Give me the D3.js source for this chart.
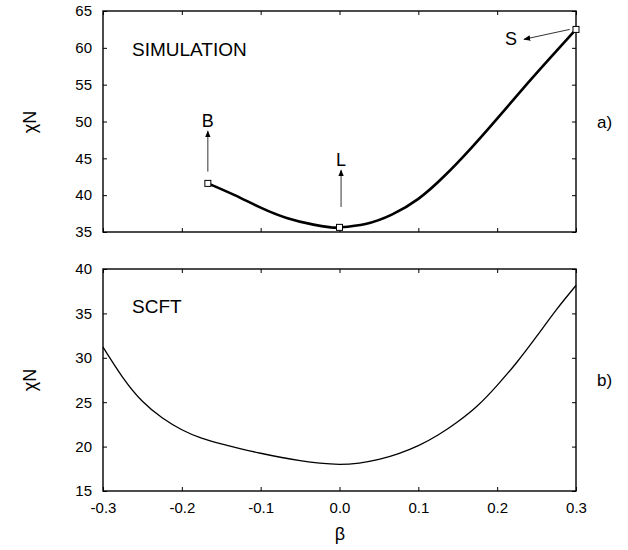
<!DOCTYPE html>
<html>
<head>
<meta charset="utf-8">
<script src="https://cdn.jsdelivr.net/npm/d3@7"></script>
<style>
  body { margin: 0; background: #fff; }
  text { font-family: "Liberation Sans", Arial, sans-serif; }
</style>
</head>
<body>
<div id="vis-holder"></div>
<script>
// Data
const betaSim = [-0.167, -0.133, -0.1, -0.067, -0.033, -0.01, 0.0, 0.033, 0.067, 0.1, 0.133, 0.167, 0.2, 0.233, 0.267, 0.3];
const chiSim  = [41.6, 40.0, 38.3, 36.9, 36.0, 35.62, 35.63, 36.1, 37.4, 39.5, 42.6, 46.4, 50.4, 54.5, 58.6, 62.5];

const markerBeta = [-0.167, 0.0, 0.3];
const markerChi  = [41.6, 35.63, 62.5];

const betaScft = [-0.3, -0.275, -0.25, -0.225, -0.2, -0.175, -0.15, -0.125, -0.1, -0.075, -0.05, -0.025, 0, 0.025, 0.05, 0.075, 0.1, 0.125, 0.15, 0.175, 0.2, 0.225, 0.25, 0.275, 0.3];
const chiScft  = [31.2, 27.8, 25.1, 23.25, 21.9, 20.95, 20.3, 19.75, 19.25, 18.8, 18.42, 18.13, 18.0, 18.15, 18.55, 19.2, 20.1, 21.3, 22.8, 24.6, 26.9, 29.5, 32.4, 35.4, 38.15];

// arrows: label, label position, arrow tail, arrow tip (data coords)
const arrowLabels = ["B", "L", "S"];
const labelBeta = [-0.167, 0.002, 0.2176];
const labelChi  = [49.2, 43.9, 60.4];
const tailBeta  = [-0.167, 0.002, 0.292];
const tailChi   = [43.2, 38.4, 62.5];
const tipBeta   = [-0.167, 0.002, 0.234];
const tipChi    = [48.7, 43.4, 61.16];

const xTicks = [-0.3, -0.2, -0.1, 0.0, 0.1, 0.2, 0.3];
const yTicksTop = [35, 40, 45, 50, 55, 60, 65];
const yTicksBot = [15, 20, 25, 30, 35, 40];

const width = 628, height = 550;
const left = 103, right = 576;

const svg = d3.select("#vis-holder")
  .append("svg")
  .attr("width", width)
  .attr("height", height);

svg.append("defs").append("marker")
  .attr("id", "head")
  .attr("viewBox", "0 0 10 10")
  .attr("refX", 9).attr("refY", 5)
  .attr("markerWidth", 7).attr("markerHeight", 7)
  .attr("markerUnits", "userSpaceOnUse")
  .attr("orient", "auto")
  .append("path")
  .attr("d", "M0,1 L10,5 L0,9 Z")
  .attr("fill", "#000");

const x = d3.scaleLinear().domain([-0.3, 0.3]).range([left, right]);

function panel(top, bottom, yDomain, yTicks, showX) {
  const y = d3.scaleLinear().domain(yDomain).range([bottom, top]);

  // left axis
  svg.append("g")
    .attr("transform", `translate(${left},0)`)
    .call(d3.axisLeft(y).tickValues(yTicks).tickSize(-4).tickSizeOuter(0).tickPadding(11))
    .call(g => g.select(".domain").remove());
  // right axis (ticks only)
  svg.append("g")
    .attr("transform", `translate(${right},0)`)
    .call(d3.axisRight(y).tickValues(yTicks).tickSize(-4).tickFormat(""))
    .call(g => g.select(".domain").remove());
  // top axis (ticks only)
  svg.append("g")
    .attr("transform", `translate(0,${top})`)
    .call(d3.axisTop(x).tickValues(xTicks).tickSize(-4).tickFormat(""))
    .call(g => g.select(".domain").remove());
  // bottom axis
  svg.append("g")
    .attr("transform", `translate(0,${bottom})`)
    .call(d3.axisBottom(x).tickValues(xTicks).tickSize(-4).tickPadding(11)
      .tickFormat(showX ? (d => d.toFixed(1)) : ""))
    .call(g => g.select(".domain").remove());

  svg.selectAll(".tick text").attr("font-size", 15).attr("fill", "#000")
    .style("font-family", "'Liberation Sans', Arial, sans-serif");
  svg.selectAll(".tick line").attr("stroke", "#000");

  // frame
  svg.append("rect")
    .attr("x", left).attr("y", top)
    .attr("width", right - left).attr("height", bottom - top)
    .attr("fill", "none").attr("stroke", "#000").attr("stroke-width", 1.4);

  return y;
}

// a) simulation
const y1 = panel(11, 232, [35, 65], yTicksTop, false);

svg.append("path")
  .datum(betaSim.map((b, i) => [b, chiSim[i]]))
  .attr("fill", "none")
  .attr("stroke", "#000")
  .attr("stroke-width", 2.6)
  .attr("d", d3.line().x(d => x(d[0])).y(d => y1(d[1])).curve(d3.curveNatural));

svg.selectAll(".arrow")
  .data(arrowLabels)
  .enter().append("line")
  .attr("class", "arrow")
  .attr("x1", (d, i) => x(tailBeta[i]))
  .attr("y1", (d, i) => y1(tailChi[i]))
  .attr("x2", (d, i) => x(tipBeta[i]))
  .attr("y2", (d, i) => y1(tipChi[i]))
  .attr("stroke", "#333")
  .attr("stroke-width", 1)
  .attr("marker-end", "url(#head)");

svg.selectAll(".alabel")
  .data(arrowLabels)
  .enter().append("text")
  .attr("class", "alabel")
  .attr("x", (d, i) => x(labelBeta[i]))
  .attr("y", (d, i) => y1(labelChi[i]))
  .attr("text-anchor", "middle")
  .attr("font-size", 18)
  .text(d => d);

svg.selectAll(".mark")
  .data(markerBeta)
  .enter().append("rect")
  .attr("class", "mark")
  .attr("x", (d) => x(d) - 3)
  .attr("y", (d, i) => y1(markerChi[i]) - 3)
  .attr("width", 6).attr("height", 6)
  .attr("fill", "#fff")
  .attr("stroke", "#000")
  .attr("stroke-width", 1);

svg.append("text").attr("x", 132).attr("y", 56).attr("font-size", 19).text("SIMULATION");
svg.append("text").attr("x", 597).attr("y", 128).attr("font-size", 17).text("a)");

// b) SCFT
const y2 = panel(269, 491, [15, 40], yTicksBot, true);

svg.append("path")
  .datum(betaScft.map((b, i) => [b, chiScft[i]]))
  .attr("fill", "none")
  .attr("stroke", "#000")
  .attr("stroke-width", 1.3)
  .attr("d", d3.line().x(d => x(d[0])).y(d => y2(d[1])).curve(d3.curveNatural));

svg.append("text").attr("x", 132).attr("y", 313).attr("font-size", 19).text("SCFT");
svg.append("text").attr("x", 597).attr("y", 386).attr("font-size", 17).text("b)");

// axis titles
[122, 380].forEach(cy => {
  svg.append("text")
    .attr("transform", `translate(36,${cy}) rotate(-90)`)
    .attr("text-anchor", "middle")
    .attr("font-size", 18)
    .text("χN");
});

svg.append("text")
  .attr("x", 340).attr("y", 540)
  .attr("text-anchor", "middle")
  .attr("font-size", 18)
  .text("β");
</script>
</body>
</html>
